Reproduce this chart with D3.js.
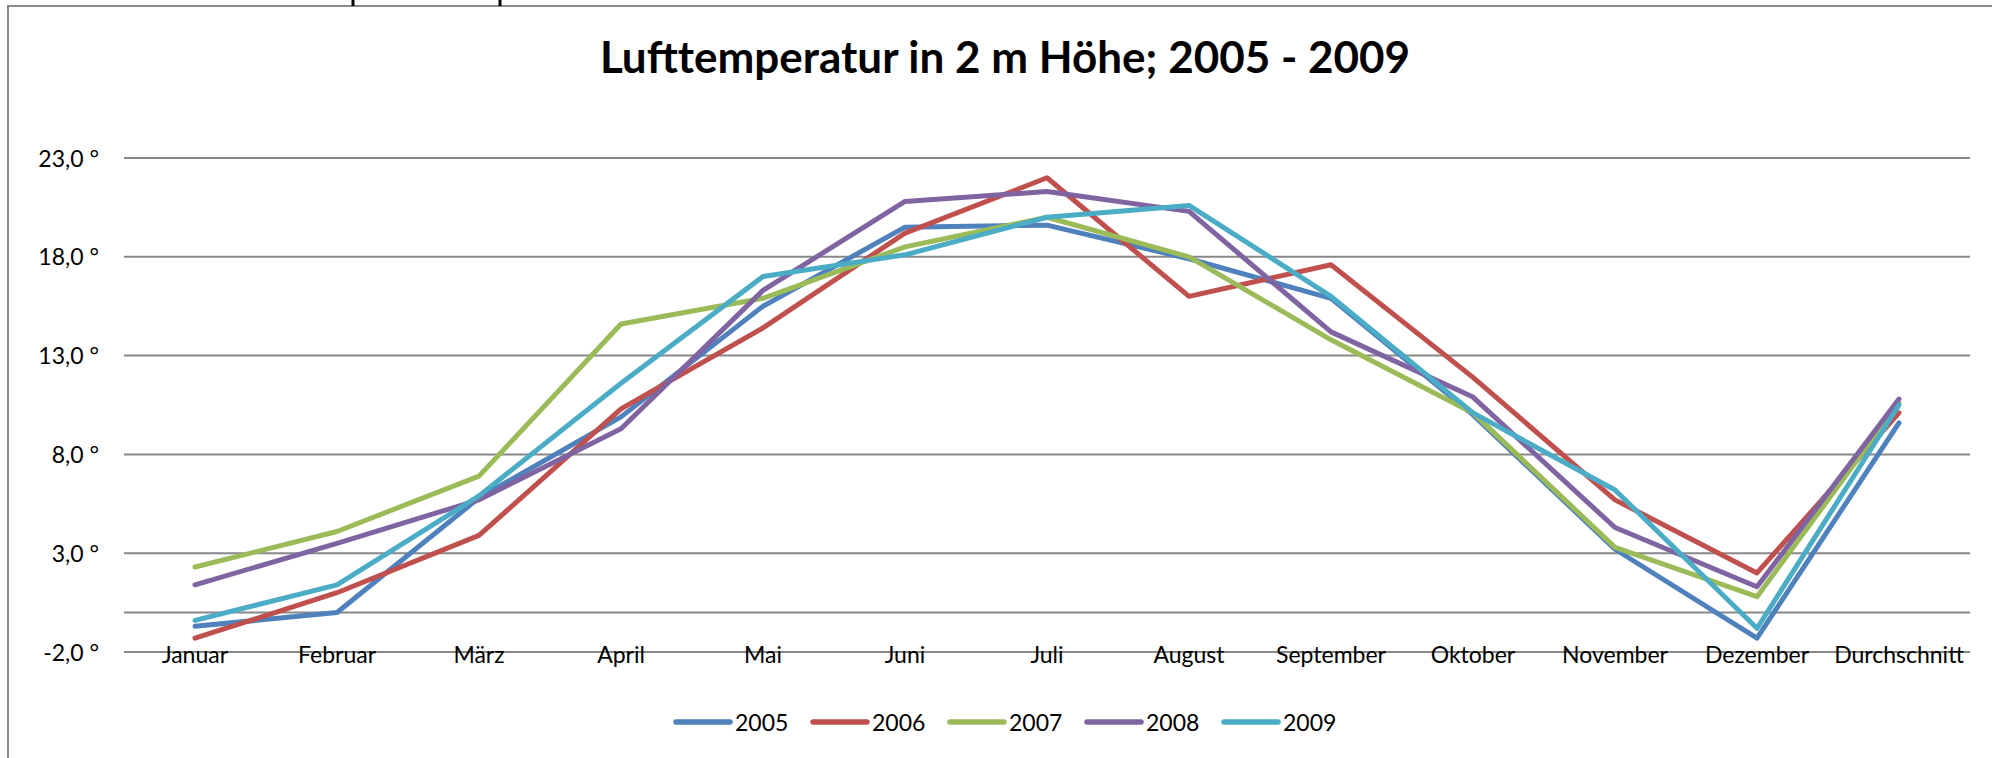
<script src="https://d3js.org/d3.v7.min.js"></script>
<style>
  body { margin: 0; background: #fff; }
  svg { display: block; font-family: Lato, "Open Sans", sans-serif; }
</style>
<body>
<svg width="1992" height="758"></svg>
<script>

// categories and yearly monthly means
var months = ['Januar', 'Februar', 'März', 'April', 'Mai', 'Juni', 'Juli',
  'August', 'September', 'Oktober', 'November', 'Dezember', 'Durchschnitt'];

var t2005 = [-0.7, 0.0, 5.8, 9.9, 15.5, 19.5, 19.6, 17.9, 15.9, 10.0, 3.2, -1.3, 9.6];
var t2006 = [-1.3, 1.0, 3.9, 10.3, 14.4, 19.2, 22.0, 16.0, 17.6, 11.9, 5.7, 2.0, 10.1];
var t2007 = [2.3, 4.1, 6.9, 14.6, 15.9, 18.5, 20.0, 18.0, 13.8, 10.1, 3.3, 0.8, 10.6];
var t2008 = [1.4, 3.5, 5.7, 9.3, 16.3, 20.8, 21.3, 20.3, 14.2, 10.9, 4.3, 1.3, 10.8];
var t2009 = [-0.4, 1.4, 5.9, 11.6, 17.0, 18.1, 20.0, 20.6, 16.0, 10.1, 6.2, -0.8, 10.5];

var years = ['2005', '2006', '2007', '2008', '2009'];
var yTicks = [-2, 3, 8, 13, 18, 23];

var series = [
  {name: years[0], values: t2005, color: '#4f81bd'},
  {name: years[1], values: t2006, color: '#c0504d'},
  {name: years[2], values: t2007, color: '#9bbb59'},
  {name: years[3], values: t2008, color: '#8064a2'},
  {name: years[4], values: t2009, color: '#4bacc6'}
];

var svg = d3.select('svg');

// chart frame (spreadsheet object border)
svg.append('path')
  .attr('d', 'M8,758 V6 H1992')
  .attr('fill', 'none')
  .attr('stroke', '#8a8a8a')
  .attr('stroke-width', 2);

// small cell marks sticking out above the frame
svg.selectAll('.mark')
  .data([353, 500])
  .enter().append('line')
  .attr('x1', function(d) { return d; })
  .attr('x2', function(d) { return d; })
  .attr('y1', 0)
  .attr('y2', 6)
  .attr('stroke', '#000')
  .attr('stroke-width', 3);

// title
svg.append('text')
  .attr('x', 1005)
  .attr('y', 73)
  .attr('text-anchor', 'middle')
  .style('font-size', '44px')
  .style('font-weight', 'bold')
  .text('Lufttemperatur in 2 m Höhe; 2005 - 2009');

// scales
var x = d3.scaleBand().domain(months).range([124, 1970]);
var y = d3.scaleLinear().domain([-2, 23]).range([652, 158]);

var fmt = d3.format('.1f');

// gridlines + horizontal axis line at 0
svg.selectAll('.grid')
  .data(yTicks.concat([0]))
  .enter().append('line')
  .attr('x1', 124)
  .attr('x2', 1970)
  .attr('y1', function(d) { return y(d); })
  .attr('y2', function(d) { return y(d); })
  .attr('stroke', '#888888')
  .attr('stroke-width', 2);

// y tick labels: "23,0 °" style, plain hyphen for minus
svg.selectAll('.ylab')
  .data(yTicks)
  .enter().append('text')
  .attr('x', 99)
  .attr('y', function(d) { return y(d) + 8.5; })
  .attr('text-anchor', 'end')
  .style('font-size', '23px')
  .text(function(d) { return fmt(d).replace('.', ',').replace('\u2212', '-') + ' °'; });

// category labels
svg.selectAll('.xlab')
  .data(months)
  .enter().append('text')
  .attr('x', function(d) { return x(d) + x.bandwidth() / 2; })
  .attr('y', 663)
  .attr('text-anchor', 'middle')
  .style('font-size', '23px')
  .text(function(d) { return d; });

// lines
var line = d3.line()
  .x(function(d, i) { return x(months[i]) + x.bandwidth() / 2; })
  .y(function(d) { return y(d); });

svg.selectAll('.series')
  .data(series)
  .enter().append('path')
  .attr('d', function(d) { return line(d.values); })
  .attr('fill', 'none')
  .attr('stroke', function(d) { return d.color; })
  .attr('stroke-width', 5)
  .attr('stroke-linejoin', 'round')
  .attr('stroke-linecap', 'round');

// legend
var legend = svg.selectAll('.legend')
  .data(series)
  .enter().append('g')
  .attr('transform', function(d, i) { return 'translate(' + (676 + i * 137) + ',722)'; });

legend.append('line')
  .attr('x1', 0)
  .attr('x2', 54)
  .attr('stroke', function(d) { return d.color; })
  .attr('stroke-width', 5.5)
  .attr('stroke-linecap', 'round');

legend.append('text')
  .attr('x', 59)
  .attr('y', 8.5)
  .style('font-size', '23px')
  .text(function(d) { return d.name; });

</script>
</body>
